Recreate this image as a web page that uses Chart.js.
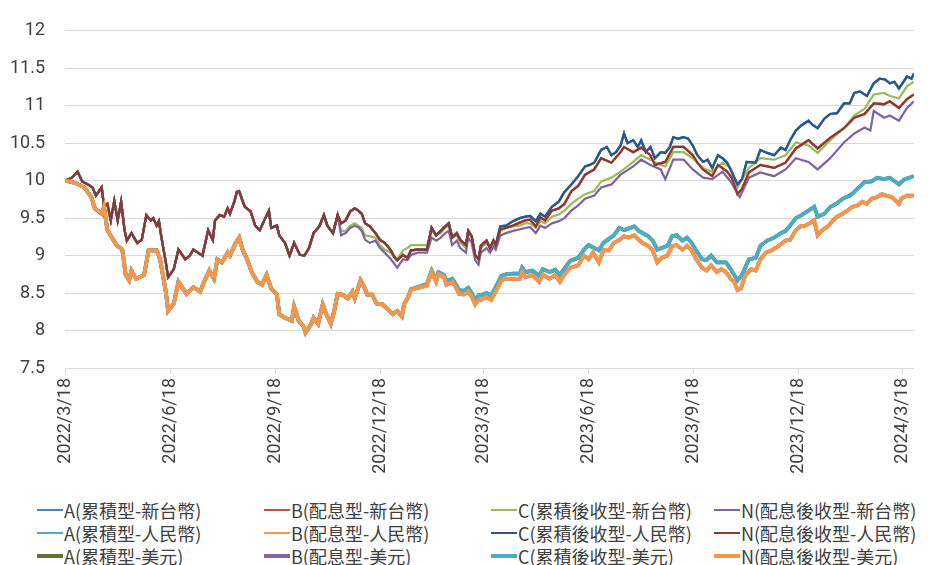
<!DOCTYPE html>
<html lang="zh-Hant">
<head>
    <meta charset="UTF-8">
    <title>淨值走勢</title>
    <script src="https://cdn.jsdelivr.net/npm/chart.js@4.4.0/dist/chart.umd.min.js"></script>
    <style>
        body { margin: 0; background: #fff; }
        .wrap { position: relative; width: 928px; height: 565px; overflow: hidden; }
        #navChart { position: absolute; left: 0; top: 0; }
        .item {
            position: absolute; display: flex; align-items: center; height: 24px;
            font-family: "Noto Sans CJK TC", sans-serif; font-size: 18px; color: #404040; white-space: nowrap;
        }
        .swatch { width: 26px; margin-right: 1px; }
    </style>
</head>
<body>
<div class="wrap">
    <canvas id="navChart" width="928" height="480"></canvas>
    <div id="legend"></div>
</div>

<script>
    // x 軸刻度日期
    const tickDates = ['2022/3/18', '2022/6/18', '2022/9/18', '2022/12/18', '2023/3/18',
                       '2023/6/18', '2023/9/18', '2023/12/18', '2024/3/18'];
    const lastDay = 741; // 2024/3/28

    // [距 2022/3/18 天數, 淨值]
    // 新台幣/人民幣這組在前段走勢相同
    const upperEarly = [[0,10.00],[6,10.04],[11,10.12],[15,9.99],[20,9.95],[24,9.91],[27,9.80],[32,9.91],[34,9.67],[37,9.69],
        [40,9.47],[43,9.73],[46,9.47],[49,9.72],[52,9.34],[54,9.20],[58,9.30],[63,9.17],[67,9.21],[71,9.54],[75,9.47],[77,9.50],
        [80,9.40],[82,9.46],[84,9.26],[88,8.91],[90,8.71],[95,8.82],[99,9.08],[101,9.04],[105,8.95],[109,9.00],[112,9.08],
        [116,9.04],[120,9.00],[125,9.34],[129,9.21],[131,9.47],[135,9.54],[139,9.52],[142,9.63],[144,9.56],[148,9.73],[150,9.85],
        [152,9.86],[155,9.73],[157,9.65],[162,9.59],[166,9.40],[170,9.34],[174,9.47],[178,9.60],[180,9.37],[185,9.40],[187,9.27],
        [192,9.17],[196,9.00],[200,9.17],[205,9.01],[209,9.00],[213,9.10],[217,9.30],[222,9.39],[226,9.54],[229,9.40],[234,9.30],[238,9.54]];
    const upperMid = [[241,9.43],[245,9.47],[249,9.59],[253,9.63],[256,9.60],[259,9.56],[262,9.43],[266,9.39],[271,9.30],[275,9.21],
        [279,9.17],[284,9.08],[288,8.97],[290,8.94],[295,9.01],[299,8.97],[302,9.07],[308,9.08],[316,9.08],[320,9.37],[324,9.27],
        [328,9.33],[332,9.39],[335,9.43],[338,9.24],[342,9.30],[345,9.21],[350,9.14],[352,9.33],[355,9.26],[358,9.01],[361,8.95],
        [363,9.13],[368,9.20],[371,9.10],[374,9.20],[376,9.14]];
    const navyLate = [[380,9.39],[385,9.40],[391,9.46],[397,9.50],[402,9.52],[406,9.53],[411,9.46],[415,9.56],[419,9.52],[425,9.65],
        [431,9.72],[436,9.85],[442,9.95],[448,10.06],[454,10.19],[458,10.21],[462,10.24],[468,10.41],[473,10.45],[477,10.34],
        [481,10.38],[485,10.47],[488,10.63],[491,10.50],[496,10.54],[500,10.45],[503,10.54],[507,10.38],[511,10.45],[515,10.30],
        [520,10.38],[524,10.37],[528,10.45],[531,10.58],[535,10.56],[540,10.58],[544,10.56],[548,10.47],[552,10.34],[557,10.25],
        [561,10.28],[565,10.17],[570,10.34],[574,10.30],[578,10.24],[582,10.12],[587,9.95],[591,10.02],[595,10.25],[603,10.24],
        [607,10.41],[613,10.37],[619,10.34],[625,10.44],[629,10.41],[633,10.54],[638,10.67],[643,10.74],[649,10.80],[653,10.74],
        [657,10.70],[663,10.83],[668,10.89],[674,10.90],[680,11.03],[685,11.03],[689,11.17],[694,11.19],[700,11.13],[706,11.30],
        [711,11.36],[716,11.35],[720,11.30],[724,11.32],[728,11.23],[735,11.39],[739,11.36],[741,11.43]];
    const redLate = [[380,9.35],[385,9.37],[391,9.40],[397,9.44],[402,9.47],[406,9.48],[411,9.39],[415,9.51],[419,9.47],[425,9.60],
        [431,9.63],[436,9.69],[442,9.86],[448,9.93],[454,10.08],[462,10.15],[468,10.30],[477,10.24],[485,10.38],[488,10.45],
        [496,10.38],[503,10.44],[511,10.34],[515,10.21],[524,10.25],[531,10.45],[540,10.45],[548,10.34],[552,10.24],[557,10.15],
        [565,10.06],[570,10.21],[578,10.12],[582,10.04],[587,9.82],[591,9.89],[597,10.11],[607,10.21],[619,10.17],[629,10.24],
        [638,10.43],[649,10.54],[657,10.43],[668,10.57],[680,10.70],[689,10.84],[698,10.89],[706,11.03],[715,11.02],[720,11.06],
        [728,10.97],[735,11.09],[741,11.15]];
    const greenLate = [[241,9.33],[245,9.33],[249,9.40],[253,9.43],[256,9.40],[259,9.37],[262,9.27],[266,9.26],[271,9.24],[275,9.14],
        [279,9.08],[284,9.04],[288,8.97],[290,8.95],[295,9.07],[299,9.10],[302,9.14],[308,9.14],[316,9.14],[320,9.34],[324,9.27],
        [328,9.30],[332,9.37],[335,9.40],[338,9.24],[342,9.27],[345,9.17],[350,9.10],[352,9.30],[355,9.24],[358,9.00],[361,8.94],
        [363,9.10],[368,9.17],[371,9.10],[374,9.17],[376,9.13],[380,9.33],[385,9.37],[391,9.39],[397,9.40],[402,9.43],[406,9.43],
        [411,9.37],[415,9.46],[419,9.43],[425,9.52],[431,9.55],[436,9.60],[442,9.69],[448,9.76],[454,9.82],[462,9.86],[468,9.99],
        [477,10.04],[485,10.12],[496,10.25],[503,10.34],[511,10.28],[520,10.21],[524,10.19],[531,10.38],[540,10.38],[548,10.30],
        [557,10.17],[565,10.12],[574,10.24],[581,10.17],[587,9.91],[597,10.17],[607,10.30],[619,10.28],[629,10.34],[638,10.51],
        [649,10.47],[657,10.37],[668,10.54],[680,10.70],[689,10.87],[698,10.96],[706,11.15],[715,11.17],[720,11.13],[728,11.10],
        [735,11.26],[741,11.32]];
    const purpleLate = [[241,9.27],[245,9.30],[249,9.37],[253,9.40],[256,9.38],[259,9.33],[262,9.21],[266,9.17],[271,9.20],[275,9.10],
        [279,9.04],[284,8.96],[288,8.88],[290,8.84],[295,8.95],[299,8.94],[302,9.01],[308,9.04],[316,9.04],[320,9.24],[324,9.20],
        [328,9.24],[332,9.30],[335,9.33],[338,9.14],[342,9.20],[345,9.10],[350,9.04],[352,9.24],[355,9.17],[358,8.94],[361,8.88],
        [363,9.04],[368,9.10],[371,9.04],[374,9.12],[376,9.08],[380,9.27],[385,9.30],[391,9.33],[397,9.35],[402,9.37],[406,9.38],
        [411,9.30],[415,9.40],[419,9.37],[425,9.43],[431,9.46],[436,9.50],[442,9.60],[448,9.67],[454,9.76],[462,9.80],[468,9.91],
        [477,9.95],[485,10.08],[496,10.19],[503,10.28],[511,10.21],[520,10.15],[524,10.02],[531,10.28],[540,10.28],[548,10.15],
        [557,10.04],[565,10.02],[574,10.12],[581,9.99],[589,9.78],[597,10.04],[607,10.11],[619,10.06],[629,10.15],[638,10.30],
        [649,10.25],[657,10.15],[668,10.30],[680,10.51],[689,10.63],[698,10.71],[703,10.67],[706,10.93],[715,10.84],[720,10.87],
        [728,10.80],[735,10.97],[741,11.06]];

    // 美元這組
    const lowerEarly = [[0,10.00],[9,9.97],[17,9.91],[23,9.78],[26,9.63],[32,9.56],[34,9.65],[37,9.34],[45,9.14],[50,9.08],[53,8.74],
        [56,8.67],[58,8.80],[62,8.69],[69,8.74],[73,9.07],[80,9.07],[83,8.95],[88,8.52],[90,8.26],[95,8.36],[99,8.65],[106,8.49],
        [112,8.58],[118,8.52],[122,8.67],[126,8.80],[130,8.69],[133,8.95],[137,8.91],[142,9.04],[144,9.00],[149,9.17],[152,9.24],
        [155,9.08],[159,8.95],[163,8.78],[168,8.65],[172,8.61],[176,8.74],[180,8.56],[185,8.48],[187,8.22],[192,8.17],[198,8.13],
        [200,8.32],[204,8.13],[208,8.06],[210,7.97],[215,8.09],[217,8.17],[221,8.09],[225,8.35],[228,8.22],[232,8.09],[235,8.26],
        [238,8.49],[242,8.48],[247,8.43],[251,8.52],[253,8.43],[258,8.67],[260,8.62],[264,8.48],[268,8.48],[272,8.36],[277,8.35],
        [282,8.28],[286,8.22],[290,8.26],[294,8.19],[296,8.35],[299,8.43]];
    const tealLate = [[302,8.55],[308,8.58],[316,8.62],[320,8.80],[324,8.68],[326,8.78],[331,8.74],[333,8.66],[338,8.69],[341,8.62],
        [344,8.54],[348,8.53],[352,8.57],[355,8.50],[358,8.41],[361,8.47],[363,8.47],[368,8.50],[372,8.47],[376,8.58],[381,8.73],
        [385,8.75],[391,8.76],[397,8.76],[399,8.84],[402,8.78],[408,8.80],[414,8.73],[417,8.82],[423,8.78],[428,8.81],[432,8.74],
        [436,8.83],[441,8.93],[448,8.97],[453,9.08],[457,9.14],[466,9.07],[470,9.17],[479,9.27],[484,9.37],[488,9.34],[497,9.39],
        [501,9.33],[509,9.26],[513,9.20],[517,9.08],[526,9.13],[530,9.26],[534,9.27],[539,9.20],[543,9.24],[547,9.17],[551,9.07],
        [556,8.95],[560,8.94],[564,9.00],[569,8.91],[577,8.91],[581,8.82],[587,8.67],[591,8.74],[597,8.95],[603,8.97],[607,9.13],
        [613,9.20],[619,9.24],[625,9.30],[629,9.33],[633,9.40],[638,9.50],[643,9.54],[649,9.60],[654,9.65],[657,9.52],[663,9.56],
        [668,9.65],[673,9.69],[679,9.76],[685,9.80],[689,9.85],[693,9.91],[698,9.98],[704,9.99],[709,10.04],[715,10.02],[720,10.04],
        [728,9.95],[733,10.02],[741,10.06]];
    const orangeLate = [[302,8.54],[308,8.57],[316,8.60],[320,8.78],[324,8.65],[326,8.75],[331,8.71],[333,8.61],[338,8.65],[341,8.58],
        [344,8.49],[348,8.48],[352,8.52],[355,8.45],[358,8.35],[361,8.41],[363,8.41],[368,8.45],[372,8.41],[376,8.52],[381,8.67],
        [385,8.69],[391,8.69],[397,8.69],[399,8.78],[402,8.71],[408,8.74],[414,8.65],[417,8.75],[423,8.69],[428,8.74],[432,8.65],
        [436,8.75],[441,8.84],[448,8.87],[453,9.00],[457,8.95],[461,9.04],[466,8.91],[470,9.07],[475,9.07],[479,9.17],[484,9.21],
        [488,9.26],[492,9.24],[497,9.27],[501,9.21],[504,9.17],[509,9.13],[513,9.07],[517,8.91],[521,8.97],[526,9.00],[530,9.13],
        [534,9.14],[539,9.08],[543,9.13],[547,9.07],[551,8.95],[556,8.84],[560,8.80],[564,8.87],[569,8.78],[573,8.82],[577,8.78],
        [581,8.69],[584,8.65],[587,8.54],[590,8.56],[594,8.74],[599,8.82],[603,8.80],[607,8.95],[612,9.04],[617,9.07],[623,9.13],
        [629,9.20],[633,9.21],[638,9.34],[642,9.39],[646,9.40],[650,9.43],[654,9.47],[657,9.27],[661,9.34],[666,9.39],[670,9.46],
        [674,9.52],[679,9.56],[683,9.60],[687,9.65],[692,9.67],[696,9.72],[700,9.69],[704,9.76],[709,9.78],[713,9.82],[717,9.80],
        [722,9.78],[728,9.69],[730,9.76],[735,9.80],[741,9.80]];

    const navyPath = upperEarly.concat(upperMid, navyLate);
    const redPath = upperEarly.concat(upperMid, redLate);
    const greenPath = upperEarly.concat(greenLate);
    const purplePath = upperEarly.concat(purpleLate);
    const tealPath = lowerEarly.concat(tealLate);
    const orangePath = lowerEarly.concat(orangeLate);

    const seriesNames = ['A(累積型-新台幣)', 'B(配息型-新台幣)', 'C(累積後收型-新台幣)', 'N(配息後收型-新台幣)',
                         'A(累積型-人民幣)', 'B(配息型-人民幣)', 'C(累積後收型-人民幣)', 'N(配息後收型-人民幣)',
                         'A(累積型-美元)', 'B(配息型-美元)', 'C(累積後收型-美元)', 'N(配息後收型-美元)'];
    const seriesPaths = [navyPath, redPath, greenPath, purplePath,
                         navyPath, redPath, navyPath, redPath,
                         tealPath, orangePath, tealPath, orangePath];
    const seriesColors = ['#4F81BD', '#C0504D', '#9BBB59', '#8064A2',
                          '#4BACC6', '#F79646', '#2E5588', '#8C3836',
                          '#5F7530', '#8064A2', '#4BACC6', '#F79646'];
    const seriesWidths = [2.25, 2.25, 2.25, 2.25, 2.25, 2.25, 2.25, 2.25, 3.75, 3.75, 3.75, 3.75];

    const baseUTC = Date.UTC(2022, 2, 18);
    function dayOf(s) {
        const p = s.split('/').map(Number);
        return Math.round((Date.UTC(p[0], p[1] - 1, p[2]) - baseUTC) / 86400000);
    }
    function dateOf(n) {
        const t = new Date(baseUTC + n * 86400000);
        return t.getUTCFullYear() + '/' + (t.getUTCMonth() + 1) + '/' + t.getUTCDate();
    }
    const tickDays = tickDates.map(dayOf);

    const datasets = seriesNames.map((name, i) => ({
        label: name,
        data: seriesPaths[i].map(p => ({ x: p[0], y: p[1] })),
        borderColor: seriesColors[i],
        backgroundColor: seriesColors[i],
        borderWidth: seriesWidths[i],
        pointRadius: 0,
        tension: 0,
        fill: false,
        order: seriesNames.length - i // 後面的系列畫在上面
    }));

    const tickFont = { family: 'Roboto', size: 18 };

    new Chart(document.getElementById('navChart'), {
        type: 'line',
        data: { datasets: datasets },
        options: {
            responsive: false,
            animation: false,
            devicePixelRatio: 1,
            layout: { padding: { top: 23, right: 0, left: 0, bottom: 0 } },
            plugins: {
                legend: { display: false },
                tooltip: { enabled: false }
            },
            scales: {
                x: {
                    type: 'linear',
                    min: 0,
                    max: lastDay,
                    afterBuildTicks: axis => { axis.ticks = tickDays.map(v => ({ value: v })); },
                    afterFit: axis => { axis.height = 112; },
                    ticks: {
                        autoSkip: false,
                        minRotation: 90,
                        maxRotation: 90,
                        padding: 4,
                        font: tickFont,
                        color: '#404040',
                        callback: v => dateOf(v)
                    },
                    grid: { drawOnChartArea: false, drawTicks: true, tickLength: 6, color: '#d9d9d9' },
                    border: { display: true, color: '#d9d9d9' }
                },
                y: {
                    min: 7.5,
                    max: 12,
                    afterFit: axis => { axis.width = 65; },
                    ticks: {
                        stepSize: 0.5,
                        padding: 20,
                        font: tickFont,
                        color: '#404040',
                        callback: v => String(Math.round(v * 10) / 10)
                    },
                    grid: { color: '#d9d9d9', drawTicks: false },
                    border: { display: false }
                }
            }
        }
    });

    // 圖例: 4 欄 3 列
    const legendCols = [37, 264, 491, 714];
    const legendRows = [510, 533, 556];
    const legend = document.getElementById('legend');
    seriesNames.forEach((name, i) => {
        const item = document.createElement('div');
        item.className = 'item';
        item.style.left = legendCols[i % 4] + 'px';
        item.style.top = (legendRows[Math.floor(i / 4)] - 12) + 'px';
        const sw = document.createElement('span');
        sw.className = 'swatch';
        sw.style.height = (seriesWidths[i] > 3 ? 4 : 2) + 'px';
        sw.style.background = seriesColors[i];
        item.appendChild(sw);
        item.appendChild(document.createTextNode(name));
        legend.appendChild(item);
    });
</script>
</body>
</html>
